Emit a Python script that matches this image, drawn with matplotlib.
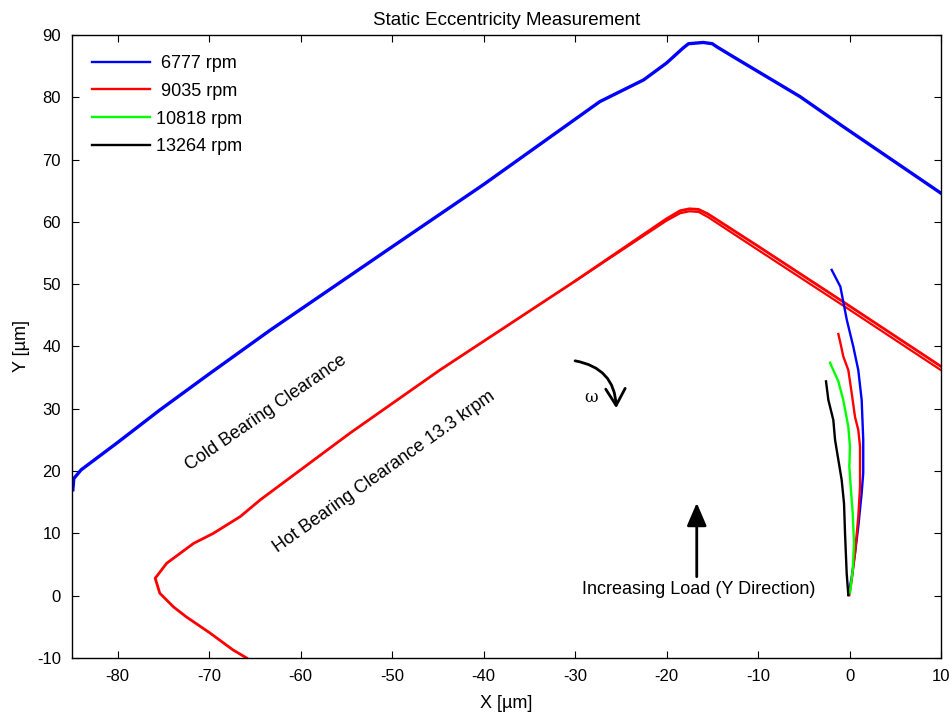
import matplotlib
matplotlib.use("Agg")
from matplotlib import pyplot as plt

plt.rcParams["font.family"] = ["Liberation Sans", "DejaVu Sans"]
plt.rcParams["axes.unicode_minus"] = False

# clearance boundaries (um)
cold_x = [-84.9, -84.8, -84.0, -80.0, -75.4, -69.9, -63.35, -50.0, -40.0,
          -27.3, -22.5, -20.0, -18.2, -17.6, -16.0, -15.0, -14.5, -12.7,
          -9.05, -5.4, -0.7, 5.0, 10.0]
cold_y = [17.0, 18.8, 20.2, 24.6, 29.8, 35.7, 42.6, 56.0, 66.0,
          79.3, 82.8, 85.5, 87.9, 88.6, 88.8, 88.6, 88.1, 86.5,
          83.3, 80.1, 75.3, 69.6, 64.6]

hot_x = [-65.9, -67.4, -69.9, -72.5, -73.9, -75.4, -75.9, -74.65, -71.7,
         -69.55, -66.6, -64.4, -54.6, -44.8, -30.0, -20.0, -18.5, -17.5,
         -16.5, -15.5, -10.0, 0.0, 10.0]
hot_y = [-10.0, -8.7, -6.0, -3.4, -1.8, 0.4, 2.8, 5.2, 8.4,
         10.0, 12.7, 15.4, 26.1, 36.2, 50.5, 60.5, 61.8, 62.1,
         62.0, 61.3, 56.1, 46.5, 36.8]

# second pass of the hot trace over the top right part
hot2_x = [-30.0, -20.0, -18.5, -17.5, -16.5, -15.5, -10.0, 0.0, 10.0]
hot2_y = [50.5, 60.2, 61.4, 61.7, 61.6, 60.8, 55.5, 45.9, 36.2]

# shaft centre loci
rpm6777_x = [-1.95, -1.0, -0.3, 0.41, 0.96, 1.33, 1.5, 1.5, 1.33, 0.96, 0.6, 0.24, -0.13]
rpm6777_y = [52.3, 49.6, 44.3, 40.0, 36.2, 31.4, 25.0, 19.7, 16.5, 11.1, 6.8, 3.0, 0.1]

rpm9035_x = [-1.22, -1.0, -0.68, -0.13, 0.24, 0.6, 0.96, 1.15, 1.15, 0.96, 0.6, 0.24, -0.02]
rpm9035_y = [42.0, 40.6, 38.4, 36.2, 32.5, 28.7, 26.6, 23.9, 17.5, 12.7, 6.8, 2.5, 0.1]

rpm10818_x = [-2.13, -1.77, -1.22, -0.68, -0.13, 0.05, -0.02, 0.13, 0.35, 0.49, 0.35, 0.05]
rpm10818_y = [37.4, 36.2, 34.4, 31.4, 27.1, 23.9, 20.7, 17.5, 13.2, 8.4, 4.1, 0.4]

rpm13264_x = [-2.57, -2.31, -1.77, -1.58, -1.22, -0.86, -0.6, -0.49, -0.31, -0.13]
rpm13264_y = [34.4, 31.4, 28.2, 25.0, 21.8, 18.6, 14.8, 10.0, 3.6, 0.1]

labels = [" 6777 rpm", " 9035 rpm", "10818 rpm", "13264 rpm"]

fig = plt.figure(figsize=(9.53, 7.17), dpi=100)
ax = fig.add_axes([0.0755, 0.0823, 0.9119, 0.8689])

ax.plot(cold_x, cold_y, color="#0000ff", lw=2.4)
ax.plot(hot_x, hot_y, color="#ff0000", lw=2.0)
ax.plot(hot2_x, hot2_y, color="#ff0000", lw=1.6)

ax.plot(rpm6777_x, rpm6777_y, color="#0000ff", lw=1.7, label=labels[0])
ax.plot(rpm9035_x, rpm9035_y, color="#ff0000", lw=1.7, label=labels[1])
ax.plot(rpm10818_x, rpm10818_y, color="#00ff00", lw=1.7, label=labels[2])
ax.plot(rpm13264_x, rpm13264_y, color="#000000", lw=1.7, label=labels[3])

ax.set_xlim(-85, 10)
ax.set_ylim(-10, 90)
ax.set_xticks(range(-80, 11, 10))
ax.set_yticks(range(-10, 91, 10))
ax.tick_params(direction="in", top=True, right=True, length=5, labelsize=12)
ax.tick_params(axis="x", pad=8)
ax.tick_params(axis="y", pad=8)
for s in ax.spines.values():
    s.set_linewidth(1.0)

ax.set_title("Static Eccentricity Measurement", fontsize=13.5, pad=7)
ax.set_xlabel("X [\u00b5m]", fontsize=13, labelpad=8)
ax.set_ylabel("Y [\u00b5m]", fontsize=13, labelpad=5)

ax.legend(loc="upper left", frameon=False, fontsize=13, handlelength=3.2,
          handletextpad=0.35, labelspacing=0.6, borderaxespad=0.7)

ax.text(-63.8, 29.3, "Cold Bearing Clearance", rotation=34.5, fontsize=13,
        ha="center", va="center", rotation_mode="anchor")
ax.text(-50.9, 19.8, "Hot Bearing Clearance 13.3 krpm", rotation=35.3, fontsize=13,
        ha="center", va="center", rotation_mode="anchor")

ax.annotate("", xy=(-25.5, 30.1), xytext=(-30.0, 37.7),
            arrowprops=dict(arrowstyle="->,head_length=0.6,head_width=0.35",
                            connectionstyle="arc3,rad=-0.4", lw=2, color="k",
                            mutation_scale=20, shrinkA=0, shrinkB=0))
ax.text(-28.3, 31.8, "\u03c9", family="DejaVu Serif", fontsize=12,
        ha="center", va="center")

ax.annotate("", xy=(-16.7, 14.9), xytext=(-16.7, 3.05),
            arrowprops=dict(arrowstyle="-|>,head_length=0.7,head_width=0.3",
                            lw=2, color="k", mutation_scale=20,
                            shrinkA=0, shrinkB=0))
ax.text(-16.5, 1.0, "Increasing Load (Y Direction)", fontsize=13,
        ha="center", va="center")

fig.savefig("out.png", dpi=100)
